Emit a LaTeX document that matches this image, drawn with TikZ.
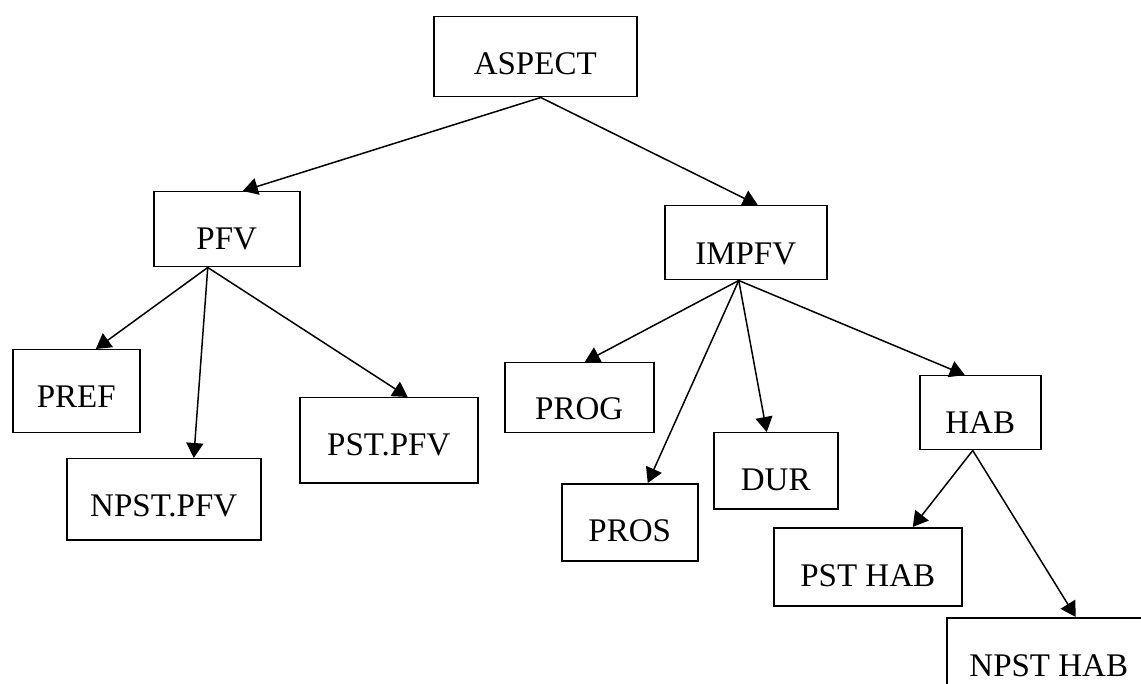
\documentclass[tikz,border=0pt]{standalone}
\usepackage{fontspec}
\setmainfont{Liberation Serif}
\usetikzlibrary{arrows.meta}
\begin{document}
\begin{tikzpicture}[x=1pt,y=-1pt,
  box/.style={draw, line width=1.5pt, inner sep=0pt, anchor=north west,
    font=\fontsize{33}{40}\selectfont},
  arr/.style={line width=1.5pt, -{Triangle[length=15pt,width=17pt]}}]
\useasboundingbox (0,0) rectangle (1141,684);
\node[box, minimum width=203pt, text height=58pt, text depth=22pt] (aspect) at (433,16) {ASPECT};
\node[box, minimum width=146pt, text height=58pt, text depth=17pt] (pfv) at (153,191) {PFV};
\node[box, minimum width=162pt, text height=59pt, text depth=15pt] (impfv) at (664,205) {IMPFV};
\node[box, minimum width=127pt, text height=58pt, text depth=25pt] (pref) at (12,349) {PREF};
\node[box, minimum width=194pt, text height=58pt, text depth=23pt] (npstpfv) at (66,458) {NPST.PFV};
\node[box, minimum width=178pt, text height=58pt, text depth=27pt] (pstpfv) at (299,397) {PST.PFV};
\node[box, minimum width=149pt, text height=57pt, text depth=13pt] (prog) at (504,362) {PROG};
\node[box, minimum width=136pt, text height=58pt, text depth=19pt] (pros) at (561,483) {PROS};
\node[box, minimum width=124pt, text height=58pt, text depth=18pt] (dur) at (713,432) {DUR};
\node[box, minimum width=121pt, text height=58pt, text depth=16pt] (hab) at (919,375) {HAB};
\node[box, minimum width=188pt, text height=59pt, text depth=19pt] (psthab) at (773,527) {PST HAB};
\node[box, minimum width=204pt, text height=59pt, text depth=30pt] (npsthab) at (946,617) {NPST HAB};
\draw[arr] ([xshift=5.5pt]aspect.south) -- ([xshift=16pt]pfv.north);
\draw[arr] ([xshift=5.5pt]aspect.south) -- ([xshift=12pt]impfv.north);
\draw[arr] ([xshift=-19pt]pfv.south) -- ([xshift=19.5pt]pref.north);
\draw[arr] ([xshift=-19pt]pfv.south) -- ([xshift=30pt]npstpfv.north);
\draw[arr] ([xshift=-19pt]pfv.south) -- ([xshift=19pt]pstpfv.north);
\draw[arr] ([xshift=-7pt]impfv.south) -- ([xshift=5.5pt]prog.north);
\draw[arr] ([xshift=-7pt]impfv.south) -- ([xshift=18pt]pros.north);
\draw[arr] ([xshift=-7pt]impfv.south) -- ([xshift=-9pt]dur.north);
\draw[arr] ([xshift=-7pt]impfv.south) -- ([xshift=-15.5pt]hab.north);
\draw[arr] ([xshift=-7.5pt]hab.south) -- ([xshift=45pt]psthab.north);
\draw[arr] ([xshift=-7.5pt]hab.south) -- ([xshift=27pt]npsthab.north);
\end{tikzpicture}
\end{document}
